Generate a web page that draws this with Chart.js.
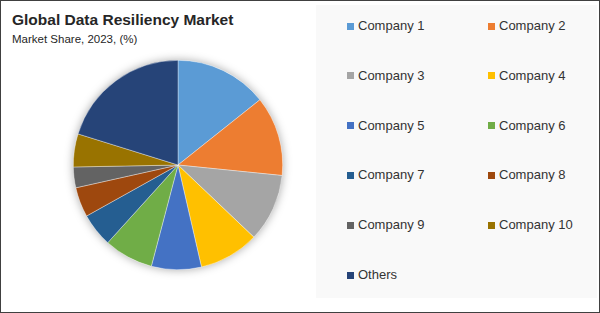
<!DOCTYPE html>
<html>
<head>
<meta charset="utf-8">
<script src="https://cdn.jsdelivr.net/npm/chart.js@4.4.1/dist/chart.umd.min.js"></script>
<style>
  html, body { margin: 0; padding: 0; background: #fff; }
  #frame { position: relative; width: 598px; height: 311px; border: 1px solid #404040; overflow: hidden; background: #fff; font-family: "Liberation Sans", Arial, sans-serif; }
  #title { position: absolute; left: 11px; top: 11px; font-size: 15.5px; line-height: 15px; font-weight: bold; color: #262626; white-space: nowrap; }
  #subtitle { position: absolute; left: 11px; top: 33px; font-size: 11.5px; line-height: 11.5px; color: #262626; white-space: nowrap; }
  #chartBox { position: absolute; left: 57px; top: 44px; width: 240px; height: 240px; }
  #legendPanel { position: absolute; left: 315px; top: 4px; width: 281px; height: 293px; background: #f9f9f9; }
  .lg-item { position: absolute; font-size: 13px; line-height: 13px; color: #333333; white-space: nowrap; }
  .lg-box { position: absolute; width: 7px; height: 7px; }
</style>
</head>
<body>
<div id="frame">
  <div id="title">Global Data Resiliency Market</div>
  <div id="subtitle">Market Share, 2023, (%)</div>
  <div id="chartBox"><canvas id="c" width="240" height="240"></canvas></div>
  <div id="legendPanel"></div>
</div>
<script>
const categories = ["Company 1", "Company 2", "Company 3", "Company 4", "Company 5", "Company 6", "Company 7", "Company 8", "Company 9", "Company 10", "Others"];
const shares = [14.3, 12.3, 10.5, 9.3, 7.7, 7.6, 5.2, 4.6, 3.2, 5.1, 20.2];
const colors = ["#5B9BD5", "#ED7D31", "#A5A5A5", "#FFC000", "#4472C4", "#70AD47", "#255E91", "#9E480E", "#636363", "#997300", "#264478"];

// HTML legend (two columns), built from the arrays
const panel = document.getElementById('legendPanel');
categories.forEach((name, i) => {
  const col = i % 2, row = Math.floor(i / 2);
  const x0 = 31 + col * 141;   // relative to panel
  const yc = 21 + row * 49.8;
  const box = document.createElement('div');
  box.className = 'lg-box';
  box.style.left = x0 + 'px';
  box.style.top = (yc - 3.5) + 'px';
  box.style.background = colors[i];
  panel.appendChild(box);
  const t = document.createElement('div');
  t.className = 'lg-item';
  t.style.left = (x0 + 11) + 'px';
  t.style.top = (yc - 7) + 'px';
  t.textContent = name;
  panel.appendChild(t);
});

const shadowPlugin = {
  id: 'pieShadow',
  beforeDatasetsDraw(chart) {
    const meta = chart.getDatasetMeta(0);
    if (!meta.data.length) return;
    const arc = meta.data[0];
    const ctx = chart.ctx;
    ctx.save();
    ctx.shadowColor = 'rgba(0,0,0,0.35)';
    ctx.shadowBlur = 10;
    ctx.shadowOffsetX = 0;
    ctx.shadowOffsetY = 0;
    ctx.fillStyle = '#ffffff';
    ctx.beginPath();
    ctx.arc(arc.x, arc.y, arc.outerRadius, 0, Math.PI * 2);
    ctx.fill();
    ctx.restore();
  }
};

new Chart(document.getElementById('c'), {
  type: 'pie',
  data: {
    labels: categories,
    datasets: [{
      data: shares,
      backgroundColor: colors,
      borderColor: 'rgba(255,255,255,0.6)',
      borderWidth: 0.6
    }]
  },
  options: {
    responsive: false,
    animation: false,
    layout: { padding: 15 },
    plugins: {
      legend: { display: false },
      tooltip: { enabled: false },
      title: { display: false }
    }
  },
  plugins: [shadowPlugin]
});
</script>
</body>
</html>
